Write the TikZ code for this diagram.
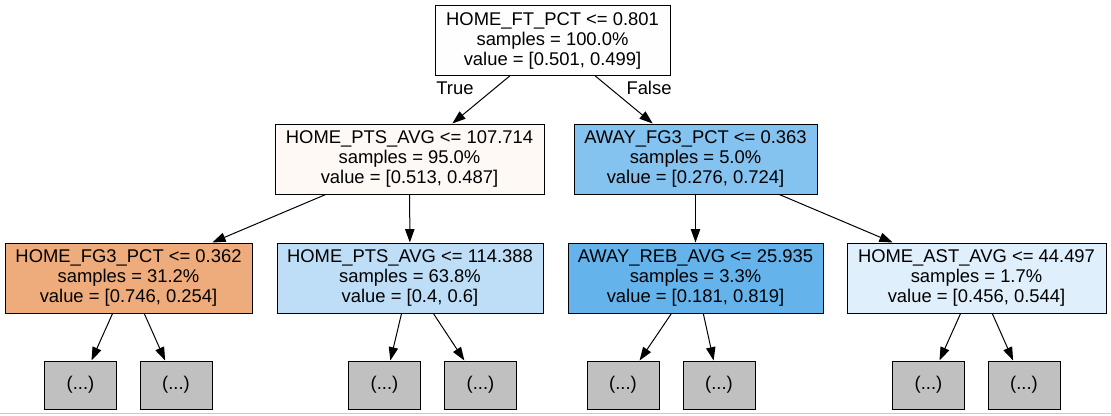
\documentclass[tikz,border=0pt]{standalone}
\usepackage{fontspec}
\setmainfont{Liberation Sans}
\usetikzlibrary{arrows.meta}
\definecolor{cRoot}{HTML}{FFFEFE}
\definecolor{cA}{HTML}{FEF9F5}
\definecolor{cB}{HTML}{84C2EF}
\definecolor{cC}{HTML}{EEAC7C}
\definecolor{cD}{HTML}{BDDEF6}
\definecolor{cE}{HTML}{65B3EB}
\definecolor{cF}{HTML}{DFEFFB}
\definecolor{cLeaf}{HTML}{C0C0C0}
\definecolor{cFrame}{HTML}{C8C8C8}
\tikzset{
  treebox/.style={draw=black, line width=0.75pt, rectangle, align=center,
    minimum height=52.5pt, inner sep=0pt,
    font=\fontsize{13.8}{15}\selectfont},
  leafbox/.style={draw=black, line width=0.75pt, rectangle, fill=cLeaf,
    minimum width=54pt, minimum height=36pt, inner sep=0pt,
    font=\fontsize{13.8}{15}\selectfont},
  edgearrow/.style={draw=black, line width=0.75pt, -{Triangle[length=10pt,width=7pt]}},
  branchlabel/.style={inner sep=0pt, font=\fontsize{13.8}{15}\selectfont}
}
\begin{document}
\begin{tikzpicture}[x=0.75pt, y=-0.75pt]
\useasboundingbox (0,0) rectangle (1111,415);
\fill[white] (0,0) rectangle (1111,415);
\draw[cFrame, line width=0.75pt] (0,413.5) -- (1111,413.5);

\node[treebox, fill=cRoot, minimum width=176.25pt] (root) at (552.5,40.5)
  {HOME\_FT\_PCT <= 0.801\\samples = 100.0\%\\value = [0.501, 0.499]};
\node[treebox, fill=cA, minimum width=201.75pt] (a) at (409.5,159)
  {HOME\_PTS\_AVG <= 107.714\\samples = 95.0\%\\value = [0.513, 0.487]};
\node[treebox, fill=cB, minimum width=182.25pt] (b) at (695.5,159)
  {AWAY\_FG3\_PCT <= 0.363\\samples = 5.0\%\\value = [0.276, 0.724]};
\node[treebox, fill=cC, minimum width=185.25pt] (c) at (128.5,278)
  {HOME\_FG3\_PCT <= 0.362\\samples = 31.2\%\\value = [0.746, 0.254]};
\node[treebox, fill=cD, minimum width=199.5pt] (d) at (410,278)
  {HOME\_PTS\_AVG <= 114.388\\samples = 63.8\%\\value = [0.4, 0.6]};
\node[treebox, fill=cE, minimum width=191.25pt] (e) at (695.5,278)
  {AWAY\_REB\_AVG <= 25.935\\samples = 3.3\%\\value = [0.181, 0.819]};
\node[treebox, fill=cF, minimum width=194.25pt] (f) at (976.5,278)
  {HOME\_AST\_AVG <= 44.497\\samples = 1.7\%\\value = [0.456, 0.544]};

\node[leafbox] (c1) at (80.5,385) {(...)};
\node[leafbox] (c2) at (176,385) {(...)};
\node[leafbox] (d1) at (384.5,385) {(...)};
\node[leafbox] (d2) at (480.5,385) {(...)};
\node[leafbox] (e1) at (623,385) {(...)};
\node[leafbox] (e2) at (719,385) {(...)};
\node[leafbox] (f1) at (928.5,385) {(...)};
\node[leafbox] (f2) at (1024,385) {(...)};

\draw[edgearrow] (root) -- (a);
\draw[edgearrow] (root) -- (b);
\draw[edgearrow] (a) -- (c);
\draw[edgearrow] (a) -- (d);
\draw[edgearrow] (b) -- (e);
\draw[edgearrow] (b) -- (f);
\draw[edgearrow] (c) -- (c1);
\draw[edgearrow] (c) -- (c2);
\draw[edgearrow] (d) -- (d1);
\draw[edgearrow] (d) -- (d2);
\draw[edgearrow] (e) -- (e1);
\draw[edgearrow] (e) -- (e2);
\draw[edgearrow] (f) -- (f1);
\draw[edgearrow] (f) -- (f2);

\node[branchlabel] (truelabel) at (455,88) {True};
\node[branchlabel] (falselabel) at (649,88) {False};
\end{tikzpicture}
\end{document}
